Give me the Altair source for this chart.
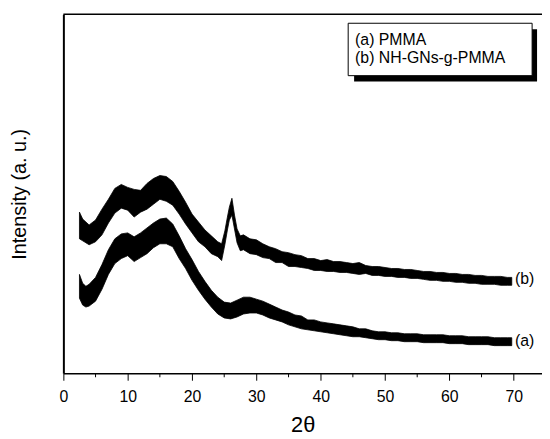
import altair as alt
import pandas as pd

# ---- data (intensity in arbitrary units) ----
x_b = [2.5, 3, 4, 5, 6, 7, 8, 9, 10, 11, 12, 13, 14, 15, 16, 17, 18, 19, 20, 21, 22, 23, 24,
       24.6, 25.1, 25.5, 25.8, 26.2, 26.6, 27.0, 27.5, 28, 29, 30, 31, 32, 33, 34, 35, 36, 37,
       38, 39, 40, 41, 42, 43, 44, 45, 46, 47, 48, 49, 50, 51, 52, 53, 54, 55, 56, 57, 58, 59,
       60, 61, 62, 63, 64, 65, 66, 67, 68, 69, 69.7]
b_lo = [136, 134, 130, 133, 140, 152, 162, 167, 165, 158, 163, 166, 171, 176, 174, 170, 161, 151,
        142, 133, 128, 121, 118,
        114, 130, 145, 155, 160, 146, 132, 124, 125, 121, 120, 117, 116, 112, 112, 108, 108, 107,
        106, 104, 104, 103, 103, 102, 102, 101, 100, 101, 99, 99, 98, 98, 97, 97, 96, 96, 95,
        94, 94, 93, 93, 92, 92, 91, 91, 90, 90, 90, 89, 89, 89]
b_hi = [163, 156, 150, 155, 166, 176, 187, 191, 188, 186, 185, 192, 197, 200, 199, 194, 184, 173,
        161, 153, 145, 139, 133,
        131, 144, 158, 168, 177, 160, 146, 139, 140, 136, 135, 131, 128, 126, 123, 122, 120, 119,
        116, 116, 114, 115, 113, 113, 112, 111, 112, 109, 108, 108, 107, 106, 106, 105, 105, 104,
        103, 103, 102, 102, 101, 101, 100, 100, 99, 99, 98, 98, 98, 97, 97]

x_a = [2.5, 3, 3.5, 4, 5, 6, 7, 8, 9, 10, 11, 12, 13, 14, 15, 16, 17, 18, 19, 20, 21, 22, 23, 24,
       25, 26, 27, 28, 29, 30, 31, 32, 33, 34, 35, 36, 37, 38, 39, 40, 41, 42, 43, 44, 45, 46, 47,
       48, 49, 50, 51, 52, 53, 54, 55, 56, 57, 58, 59, 60, 61, 62, 63, 64, 65, 66, 67, 68, 69, 69.7]
a_lo = [76, 69, 67, 68, 73, 85, 100, 111, 116, 119, 113, 117, 121, 127, 131, 131, 128, 116, 106,
        94, 84, 75, 67, 60, 56, 55, 57, 60, 61, 61, 59, 56, 54, 52, 49, 47, 45, 44, 43, 42, 41,
        40, 39, 38, 37, 37, 36, 35, 34, 34, 33, 33, 32, 32, 32, 31, 31, 31, 31, 30, 30, 30, 29,
        29, 29, 29, 28, 28, 28, 28]
a_hi = [100, 91, 88, 90, 97, 110, 125, 136, 141, 142, 138, 142, 147, 152, 156, 157, 151, 139, 126,
        115, 103, 93, 84, 77, 72, 71, 74, 77, 77, 75, 73, 70, 67, 64, 62, 59, 58, 54, 54, 52, 51,
        50, 49, 48, 47, 45, 45, 43, 42, 42, 41, 41, 40, 40, 40, 39, 39, 39, 39, 38, 38, 38, 37,
        37, 37, 37, 36, 36, 36, 36]

series_labels = ["(a)", "(b)"]
label_x = [70.2, 70.2]
label_y = [33, 95]
legend_lines = ["(a) PMMA", "(b) NH-GNs-g-PMMA"]
major_ticks = [0, 10, 20, 30, 40, 50, 60, 70]
minor_ticks = [5, 15, 25, 35, 45, 55, 65]

W, H = 484, 363
FONT = "Liberation Sans"

df = pd.concat([
    pd.DataFrame({"x": x_a, "lo": a_lo, "hi": a_hi, "s": "a"}),
    pd.DataFrame({"x": x_b, "lo": b_lo, "hi": b_hi, "s": "b"}),
])

xs = alt.Scale(domain=[0, 74.4], nice=False, zero=False)
ys = alt.Scale(domain=[0, 363], nice=False, zero=False)

bands = alt.Chart(df).mark_area(color="black", opacity=1, strokeWidth=0.8, stroke="black").encode(
    x=alt.X("x:Q", scale=xs,
            axis=alt.Axis(values=major_ticks, title="2θ", tickSize=7, tickColor="black",
                          domainColor="black", domainWidth=1.5, labelColor="black",
                          labelFontSize=16, labelFont=FONT, labelPadding=8,
                          titleFont=FONT, titleFontSize=22, titleFontWeight="normal",
                          titleColor="black", titlePadding=11, grid=False, labelFlush=False)),
    y=alt.Y("lo:Q", scale=ys,
            axis=alt.Axis(ticks=False, labels=False, grid=False, title="Intensity (a. u.)",
                          domainColor="black", domainWidth=2, titleFont=FONT,
                          titleFontSize=20, titleFontWeight="normal", titleColor="black",
                          titlePadding=34)),
    y2="hi:Q",
    detail="s:N",
)

minor = alt.Chart(pd.DataFrame({"x": minor_ticks})).mark_rule(color="black", strokeWidth=1).encode(
    x=alt.X("x:Q", scale=xs), y=alt.value(H), y2=alt.value(H + 4))

lab = alt.Chart(pd.DataFrame({"x": label_x, "y": label_y, "t": series_labels})).mark_text(
    align="left", baseline="middle", font=FONT, fontSize=16, color="black").encode(
    x=alt.X("x:Q", scale=xs), y=alt.Y("y:Q", scale=ys), text="t:N")

one = pd.DataFrame({"k": [0]})
top_line = alt.Chart(one).mark_rule(color="black", strokeWidth=1.5).encode(
    x=alt.value(0), x2=alt.value(W), y=alt.value(0))
shadow = alt.Chart(one).mark_rect(color="black").encode(
    x=alt.value(294), x2=alt.value(479), y=alt.value(15), y2=alt.value(68))
box = alt.Chart(one).mark_rect(fill="white", stroke="black", strokeWidth=1).encode(
    x=alt.value(288), x2=alt.value(474), y=alt.value(9), y2=alt.value(62))
leg1 = alt.Chart(one).mark_text(align="left", baseline="middle", font=FONT, fontSize=16,
                                color="black").encode(
    x=alt.value(295), y=alt.value(25.5), text=alt.value(legend_lines[0]))
leg2 = alt.Chart(one).mark_text(align="left", baseline="middle", font=FONT, fontSize=16,
                                color="black").encode(
    x=alt.value(295), y=alt.value(44.5), text=alt.value(legend_lines[1]))

chart = alt.layer(bands, minor, lab, top_line, shadow, box, leg1, leg2).properties(
    width=W, height=H,
    autosize=alt.AutoSizeParams(type="none"),
    padding={"left": 56, "top": 4, "right": 0, "bottom": 64},
).configure_view(stroke=None)

chart.save("out.html", embed_options={"renderer": "svg", "actions": False})
